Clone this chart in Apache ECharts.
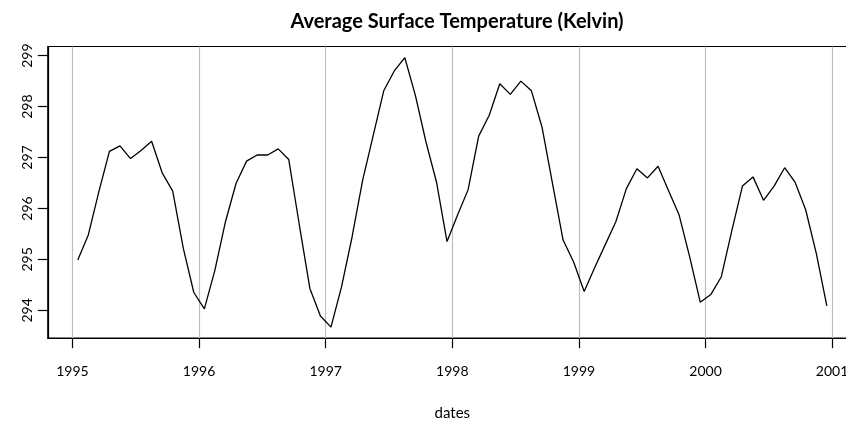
<!DOCTYPE html>
<html>
<head>
<meta charset="utf-8">
<script src="https://cdn.jsdelivr.net/npm/echarts@6/dist/echarts.min.js"></script>
<style>
html,body{margin:0;padding:0;background:#fff;}
#chart{width:846px;height:421px;}
</style>
</head>
<body>
<div id="chart"></div>
<script>
// Monthly average surface temperature (Kelvin), mid-month samples
const years = [1995, 1996, 1997, 1998, 1999, 2000];
const temps1995 = [294.99, 295.48, 296.33, 297.12, 297.23, 296.98, 297.14, 297.32, 296.70, 296.34, 295.22, 294.35];
const temps1996 = [294.03, 294.79, 295.74, 296.49, 296.93, 297.05, 297.05, 297.17, 296.96, 295.68, 294.43, 293.89];
const temps1997 = [293.67, 294.46, 295.44, 296.55, 297.43, 298.31, 298.70, 298.96, 298.22, 297.31, 296.52, 295.35];
const temps1998 = [295.87, 296.37, 297.42, 297.83, 298.45, 298.24, 298.50, 298.31, 297.60, 296.49, 295.38, 294.95];
const temps1999 = [294.37, 294.84, 295.29, 295.74, 296.39, 296.78, 296.60, 296.83, 296.35, 295.87, 295.05, 294.16];
const temps2000 = [294.31, 294.66, 295.57, 296.44, 296.62, 296.16, 296.44, 296.80, 296.51, 295.97, 295.12, 294.09];
const yTicks = [294, 295, 296, 297, 298, 299];
const xTicks = [1995, 1996, 1997, 1998, 1999, 2000, 2001];
const title = 'Average Surface Temperature (Kelvin)';
const xName = 'dates';

const allTemps = [temps1995, temps1996, temps1997, temps1998, temps1999, temps2000];
const seriesData = [];
years.forEach((y, yi) => {
  allTemps[yi].forEach((v, m) => seriesData.push([y + (m + 0.5) / 12, v]));
});

const FONT = 'Lato';
const chart = echarts.init(document.getElementById('chart'), null, {renderer: 'canvas'});
chart.setOption({
  animation: false,
  backgroundColor: '#fff',
  title: {
    text: title,
    left: 452,
    top: 7,
    textAlign: 'center',
    textStyle: {fontFamily: FONT, fontWeight: 'bold', fontSize: 20, color: '#000'}
  },
  grid: {
    left: 47.8, top: 46.5, width: 809, bottom: 82.8,
    outerBoundsMode: 'none',
    containLabel: false,
    show: true, borderColor: '#000', borderWidth: 1.2, backgroundColor: 'transparent'
  },
  xAxis: {
    type: 'value',
    min: 1994.805, max: 2001.195,
    name: xName,
    nameLocation: 'middle',
    nameGap: 67,
    nameTextStyle: {fontFamily: FONT, fontSize: 15, color: '#000'},
    axisLine: {show: true, onZero: false, lineStyle: {color: '#000', width: 1.2}},
    axisTick: {show: true, inside: false, length: 10, customValues: xTicks, lineStyle: {color: '#000', width: 1.2}},
    axisLabel: {show: true, margin: 26, customValues: xTicks, fontFamily: FONT, fontSize: 14, color: '#000',
      formatter: v => String(Math.round(v))},
    splitLine: {show: false}
  },
  yAxis: {
    type: 'value',
    min: 293.453, max: 299.18,
    axisLine: {show: true, onZero: false, lineStyle: {color: '#000', width: 1.2}},
    axisTick: {show: true, inside: false, length: 10, customValues: yTicks, lineStyle: {color: '#000', width: 1.2}},
    axisLabel: {show: true, rotate: 90, margin: 13, customValues: yTicks, fontFamily: FONT, fontSize: 14, color: '#000',
      formatter: v => String(Math.round(v))},
    splitLine: {show: false}
  },
  series: [{
    type: 'line',
    data: seriesData,
    symbol: 'none',
    lineStyle: {color: '#000', width: 1.3},
    markLine: {
      silent: true,
      symbol: ['none', 'none'],
      label: {show: false},
      lineStyle: {color: '#bebebe', width: 1.2, type: 'solid'},
      data: xTicks.map(t => ({xAxis: t})),
      z: 1
    },
    z: 3
  }]
});
</script>
</body>
</html>
